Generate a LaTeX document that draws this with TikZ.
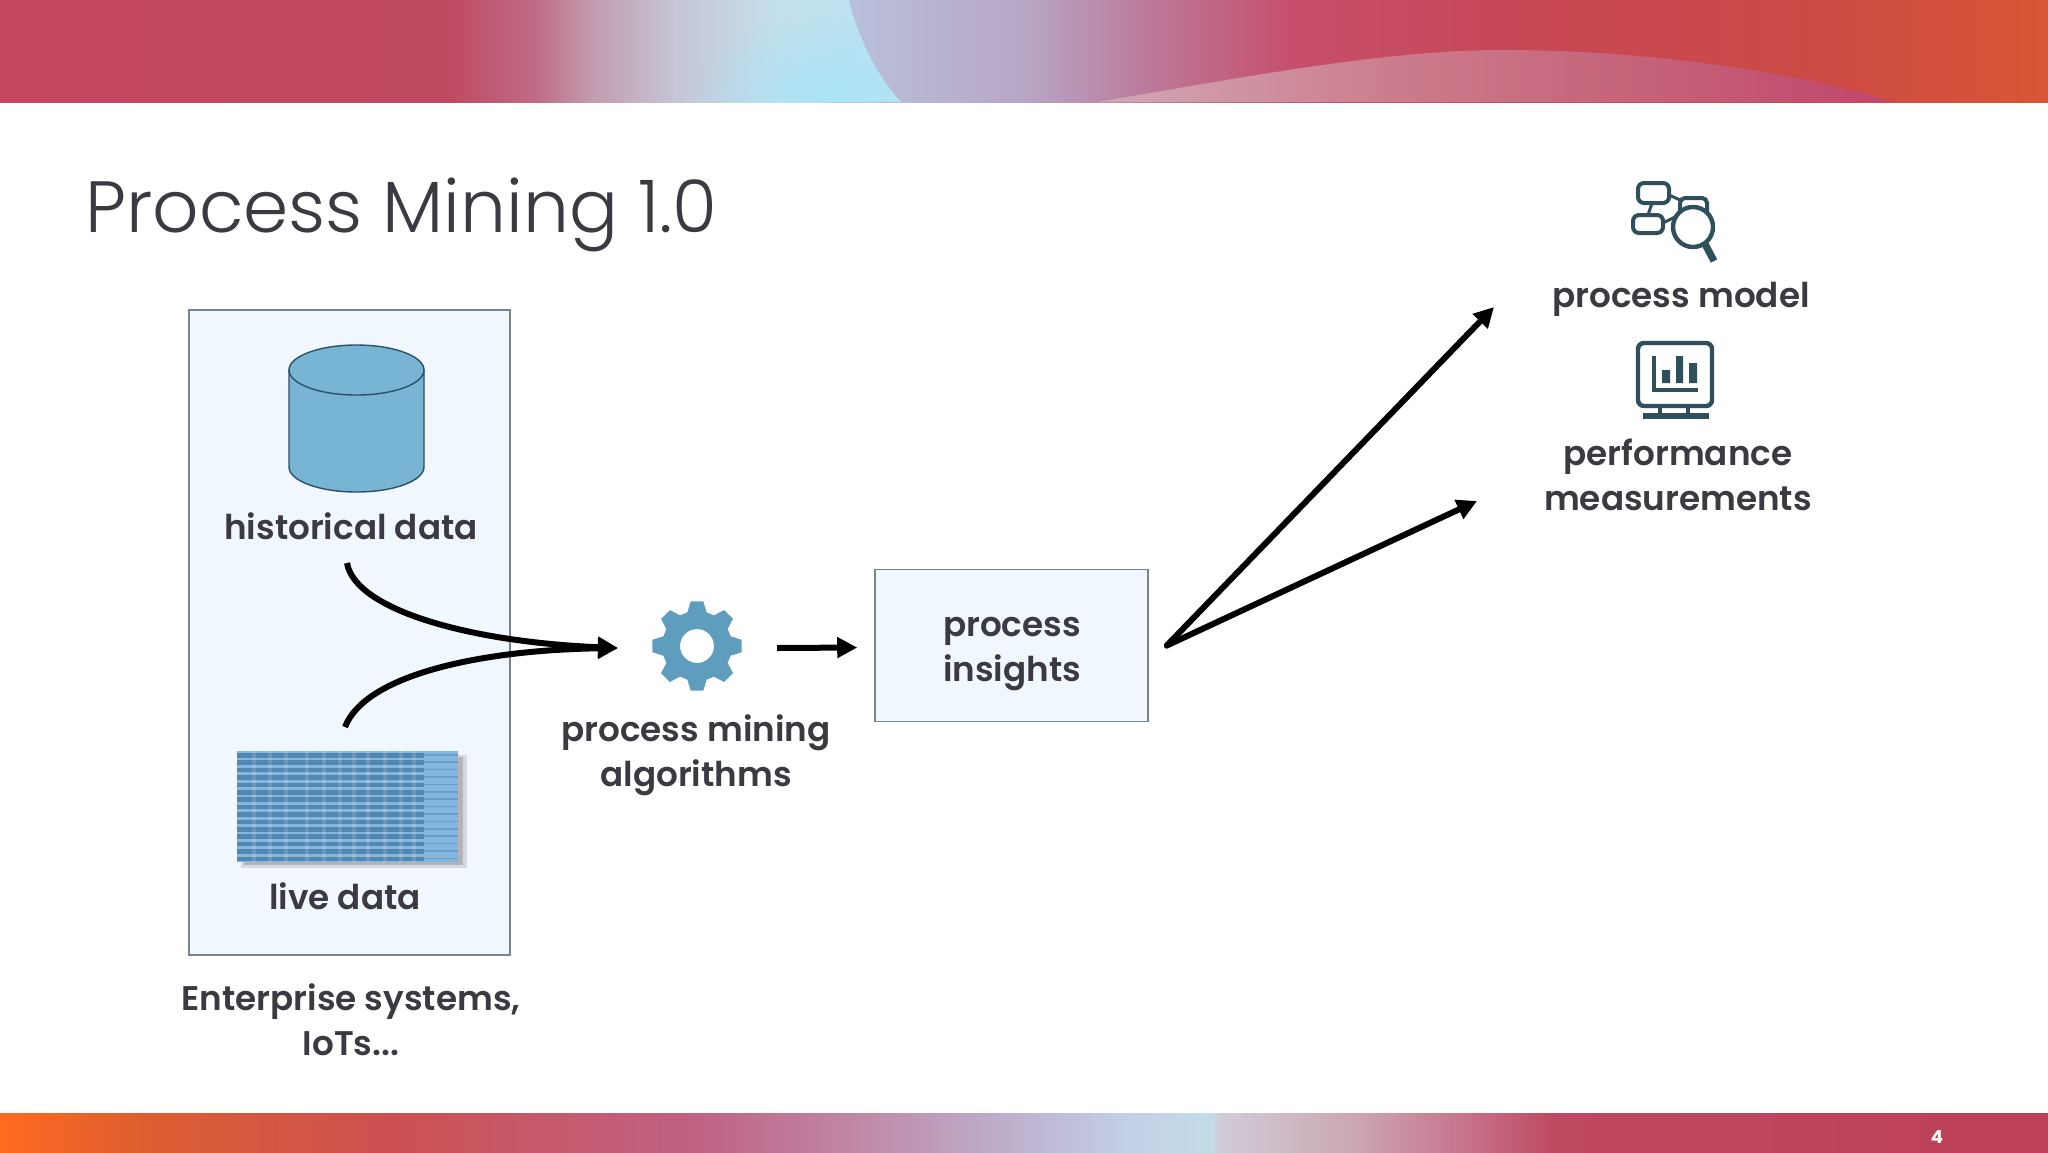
\documentclass[tikz,border=0pt]{standalone}
\usepackage{fontspec}
\setmainfont{Poppins}
\newfontfamily\labf{Poppins SemiBold}
\newfontfamily\titf{Poppins Light}
\usetikzlibrary{arrows.meta,shapes.geometric,fadings,calc}
\definecolor{tA}{HTML}{C4465F}\definecolor{tB}{HTML}{BF4A62}\definecolor{tC}{HTML}{C06A86}
\definecolor{tD}{HTML}{C29CAE}\definecolor{tE}{HTML}{C5C6D6}\definecolor{tF}{HTML}{C4E0EC}
\definecolor{tG}{HTML}{B9E4F4}\definecolor{tH}{HTML}{B8C2DC}\definecolor{tI}{HTML}{B8A6C6}
\definecolor{tJ}{HTML}{BC7A9A}\definecolor{tK}{HTML}{C64F6C}\definecolor{tL}{HTML}{C84858}
\definecolor{tM}{HTML}{CC4A46}\definecolor{tN}{HTML}{D85634}
\pgfdeclarehorizontalshading{topbar}{100bp}{color(0bp)=(tA);color(25bp)=(tA);color(36bp)=(tB);color(38bp)=(tC);color(39.5bp)=(tD);color(41.5bp)=(tE);color(44bp)=(tF);color(45bp)=(tG);color(45.5bp)=(tH);color(50bp)=(tI);color(53bp)=(tJ);color(56.5bp)=(tK);color(61.5bp)=(tL);color(69bp)=(tM);color(75bp)=(tN);color(100bp)=(tN)}
\pgfdeclarehorizontalshading{leftbar}{100bp}{color(0bp)=(tA);color(25bp)=(tA);color(36bp)=(tB);color(38bp)=(tC);color(39.5bp)=(tD);color(41.5bp)=(tE);color(44bp)=(tF);color(47bp)=(tG);color(100bp)=(tG)}
\definecolor{oA}{HTML}{D2A8B6}\definecolor{oB}{HTML}{CC7C8C}\definecolor{oC}{HTML}{C45C74}\definecolor{oD}{HTML}{C0456C}
\pgfdeclarehorizontalshading{overbar}{100bp}{color(0bp)=(oA);color(25bp)=(oA);color(43.5bp)=(oB);color(62.5bp)=(oC);color(75bp)=(oD);color(100bp)=(oD)}
\definecolor{bA}{HTML}{FF6A20}\definecolor{bB}{HTML}{DE5E30}\definecolor{bC}{HTML}{CC5052}\definecolor{bD}{HTML}{C06284}
\definecolor{bE}{HTML}{C084A2}\definecolor{bF}{HTML}{BCAECC}\definecolor{bG}{HTML}{C2D0E6}\definecolor{bH}{HTML}{C4DCE8}
\definecolor{bI}{HTML}{D0CCD8}\definecolor{bJ}{HTML}{CCA8B2}\definecolor{bK}{HTML}{C87890}\definecolor{bL}{HTML}{BE4860}\definecolor{bM}{HTML}{BC4058}
\pgfdeclarehorizontalshading{botbar}{100bp}{color(0bp)=(bA);color(25bp)=(bA);color(28.5bp)=(bB);color(34.5bp)=(bC);color(42bp)=(bD);color(45.5bp)=(bE);color(49.5bp)=(bF);color(52.5bp)=(bG);color(54.6bp)=(bH);color(54.75bp)=(bI);color(58bp)=(bJ);color(60.5bp)=(bK);color(63bp)=(bL);color(75bp)=(bM);color(100bp)=(bM)}
\definecolor{ink}{HTML}{3A3A40}\definecolor{icon}{HTML}{2F4F5C}\definecolor{panel}{HTML}{F0F7FD}
\definecolor{edge}{HTML}{78858C}\definecolor{gearc}{HTML}{5F9DBF}\definecolor{cyl}{HTML}{78B4D4}
\definecolor{cylb}{HTML}{2C5068}\definecolor{tbl}{HTML}{84B6E2}\definecolor{tbld}{HTML}{44789F}\definecolor{glow}{HTML}{A6E4F8}
\tikzfading[name=softglow,inner color=transparent!15,outer color=transparent!100]
\tikzset{
 lab/.style={font=\labf\fontsize{17.1}{22.5}\selectfont,text=ink,align=center,inner sep=0pt},
 panelbox/.style={draw=edge,line width=0.8pt,fill=panel},
 conn/.style={draw=black,line width=3pt,-{Triangle[length=10pt,width=10pt]}},
 ico/.style={draw=icon,line width=2pt},
 icof/.style={fill=icon,draw=none}
}
\begin{document}
\begin{tikzpicture}[x=0.5pt,y=-0.5pt]
\useasboundingbox (0,0) rectangle (2048,1152);
\fill[white] (0,0) rectangle (2048,1152);
% top band
\shade[shading=topbar] (0,0) rectangle (2048,102);
\begin{scope}
 \clip (849,0) .. controls (858,40) and (880,80) .. (901,102) -- (600,102) -- (600,0) -- cycle;
 \shade[shading=leftbar] (0,0) rectangle (2048,102);
 \fill[glow,path fading=softglow] (690,10) rectangle (960,190);
\end{scope}
\begin{scope}
 \clip (1097,102) .. controls (1230,80) and (1380,50) .. (1502,50) .. controls (1640,50) and (1790,70) .. (1894,102) -- cycle;
 \shade[shading=overbar] (1097,40) rectangle (1900,102);
\end{scope}
% bottom band
\shade[shading=botbar] (0,1113) rectangle (2048,1152);
\node[font=\bfseries\fontsize{9}{9}\selectfont,text=white,inner sep=0pt] (pagenum) at (1937,1137) {4};
% title
\node[anchor=base west,font=\titf\fontsize{36.3}{36.3}\selectfont,text=ink,inner sep=0pt] (title) at (85,232) {Process Mining 1.0};
% source panel
\node[panelbox,minimum width=160.5pt,minimum height=322.5pt,inner sep=0pt,anchor=north west] (panelsrc) at (188,309) {};
% cylinder
\node[minimum width=67.5pt,minimum height=73.5pt,inner sep=0pt] (store) at (356.5,418.5) {};
\filldraw[draw=cylb,line width=.7pt,fill=cyl] (289,370) -- (289,467) arc[start angle=180,end angle=0,x radius=67.5,y radius=25] -- (424,370) -- cycle;
\filldraw[draw=cylb,line width=.7pt,fill=cyl] (356.5,370) ellipse[x radius=67.5,y radius=25];
\node[lab] (hist) at (351,526) {historical data};
% live table
\fill[black!40,opacity=.3] (241,755) rectangle (467,868);
\fill[black!40,opacity=.6] (244,757) rectangle (463,865);
\node[fill=tbl,minimum width=110.5pt,minimum height=55.5pt,inner sep=0pt,anchor=north west] (table) at (237,751) {};
\foreach \r in {0,...,14}{
 \fill[tbld,opacity=.75] (237,{753+\r*7.4}) rectangle (424,{757.5+\r*7.4});
 \fill[tbld,opacity=.4] (424,{754+\r*7.4}) rectangle (458,{755.5+\r*7.4});
}
\foreach \c in {252,268,284,305,322,338,352,366,383,399,412}{
 \fill[white,opacity=.14] (\c,751) rectangle (\c+4,862);
}
\node[lab] (live) at (345,896) {live data};
\node[lab] (enterprise) at (351,1020) {Enterprise systems,\\IoTs...};
% gear
\node[minimum size=45pt,inner sep=0pt] (gear) at (697,646) {};
\fill[gearc,even odd rule] ($(gear.center)+(-8:45)$)
 \foreach \a in {0,45,...,315}{
   -- ($(gear.center)+({\a-8}:45)$) -- ($(gear.center)+({\a+8}:45)$) -- ($(gear.center)+({\a+16}:35)$) -- ($(gear.center)+({\a+29}:35)$)
 } -- cycle
 (gear.center) circle[radius=17];
\node[lab] (algo) at (696,755) {process mining\\algorithms};
% insights
\node[draw=edge,line width=.8pt,fill=panel,minimum width=136.5pt,minimum height=76pt,inner sep=0pt] (insbox) at (1011.5,645.5) {};
\node[lab] (insights) at (1012,654) {process\\insights};
% outputs
\node[lab] (model) at (1681,299) {process model};
\node[lab] (perf) at (1678,475) {performance\\measurements};
% model icon
\node[minimum size=45pt,inner sep=0pt] (modelicon) at (1673,222) {};
\draw[ico,rounded corners=2.5pt] (1680,198) rectangle (1707,217);
\draw[ico,line width=1.5pt] (1669,195) -- (1680,200) (1652,203) -- (1648,215) (1663,223) -- (1675,217);
\draw[ico,rounded corners=3pt,fill=white] (1638,183) rectangle (1669,203);
\draw[ico,rounded corners=3pt,fill=white] (1633,215) rectangle (1663,233);
\draw[ico,line width=2.2pt,fill=white] (1693,227) circle[radius=20];
\draw[icon,line width=3.6pt] (1705,244) -- (1714,261);
% monitor icon
\node[minimum size=40pt,inner sep=0pt] (moni) at (1675,380) {};
\draw[ico,line width=2.2pt,rounded corners=3pt] (1638,343) rectangle (1712,406);
\draw[ico,line width=2.2pt] (1654,356) -- (1654,390) -- (1698,390);
\fill[icof] (1662,370) rectangle (1670,383) (1676,356) rectangle (1683,383) (1689,363) rectangle (1697,383);
\draw[ico,line width=1.8pt] (1660,406) -- (1660,414) (1688,406) -- (1688,414);
\fill[icof] (1643,413) rectangle (1709,419);
% connectors
\coordinate (merge) at (618,648);
\coordinate (tipmodel) at (1494,307);
\coordinate (tipperf) at (1477,501);
\coordinate (histout) at (347,563);
\coordinate (liveout) at (345,727);
\coordinate (fan) at ($(insbox.east)+(18,0)$);
\draw[conn] (histout) .. controls (355,610) and (470,642) .. (merge);
\draw[conn] (liveout) .. controls (365,675) and (480,650) .. (merge);
\draw[conn] ($(gear.center)+(80,2)$) -- ($(insbox.west)+(-17,2)$);
\draw[conn,line cap=round] (fan) -- (tipmodel);
\draw[conn,line cap=round] (fan) -- (tipperf);
\end{tikzpicture}
\end{document}
